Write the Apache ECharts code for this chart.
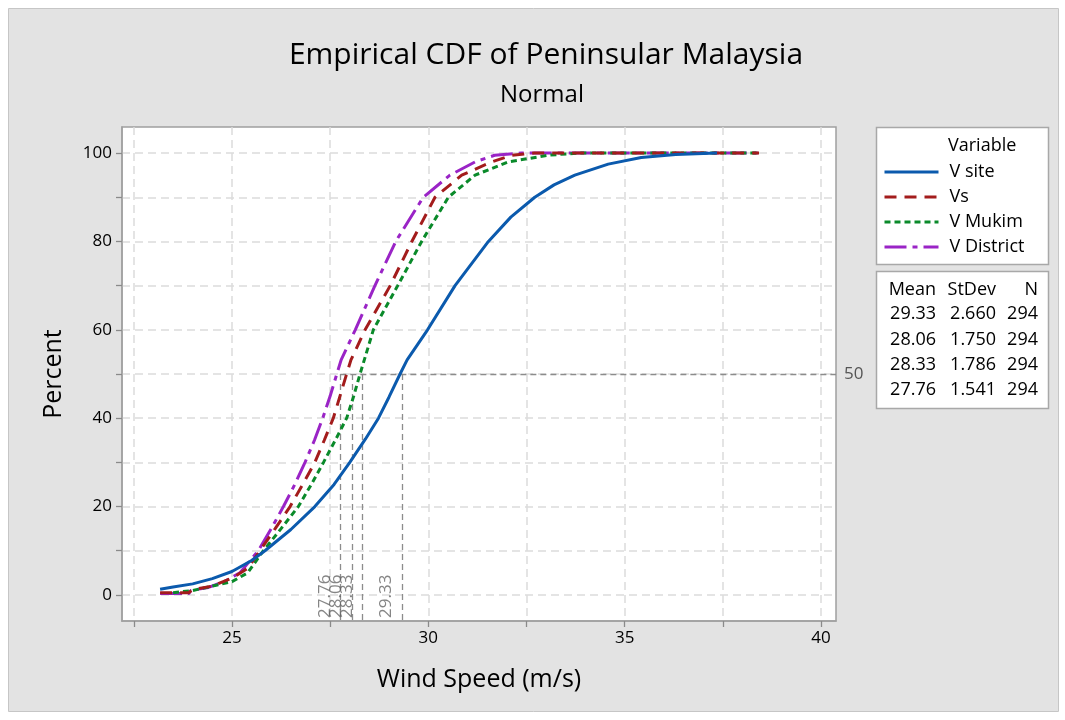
<!DOCTYPE html>
<html>
<head>
<meta charset="utf-8">
<script src="https://cdn.jsdelivr.net/npm/echarts@6/dist/echarts.min.js"></script>
<style>
html,body{margin:0;padding:0;background:#ffffff;}
#chart{width:1065px;height:720px;}
</style>
</head>
<body>
<div id="chart"></div>
<script>
// ---- Data ----
const seriesNames = ['V site', 'Vs', 'V Mukim', 'V District'];

const siteX = [23.17, 23.50, 24.00, 24.50, 25.00, 25.50, 25.84, 26.50, 27.11, 27.60, 28.00, 28.40, 28.73, 29.00, 29.28, 29.46, 29.98, 30.68, 31.53, 32.10, 32.71, 33.20, 33.73, 34.58, 35.42, 36.30, 37.35];
const siteP = [1.3, 1.8, 2.5, 3.7, 5.3, 7.8, 10.0, 14.8, 20.0, 25.0, 30.0, 35.3, 40.0, 44.8, 50.0, 53.2, 60.0, 70.0, 80.0, 85.5, 90.0, 92.8, 95.0, 97.5, 99.0, 99.7, 100];

const vsX = [23.17, 23.90, 24.00, 24.50, 25.00, 25.40, 25.71, 26.10, 26.48, 26.80, 27.11, 27.35, 27.58, 27.75, 27.92, 28.03, 28.39, 29.03, 29.58, 30.17, 30.85, 31.61, 32.12, 32.70, 38.42];
const vsP = [0.5, 0.5, 1.2, 2.0, 3.8, 6.0, 10.0, 15.0, 20.0, 25.0, 30.0, 35.0, 40.0, 45.0, 50.0, 53.2, 60.0, 70.0, 80.0, 90.0, 95.0, 98.0, 99.5, 100, 100];

const mukimX = [23.50, 24.00, 24.50, 25.00, 25.40, 25.80, 26.25, 26.69, 27.02, 27.33, 27.63, 27.92, 28.10, 28.26, 28.37, 28.60, 29.22, 29.83, 30.51, 31.19, 32.03, 33.05, 33.81, 38.42];
const mukimP = [0.5, 1.0, 2.0, 3.0, 5.0, 10.0, 15.0, 20.0, 25.0, 30.0, 35.0, 40.0, 45.0, 50.0, 53.2, 60.0, 70.0, 80.0, 90.0, 95.0, 98.0, 99.5, 100, 100];

const districtX = [23.17, 23.90, 23.95, 24.40, 24.80, 25.20, 25.67, 26.00, 26.31, 26.60, 26.86, 27.10, 27.31, 27.50, 27.67, 27.78, 28.14, 28.64, 29.17, 29.87, 30.55, 31.19, 31.69, 32.37, 38.42];
const districtP = [0.3, 0.3, 1.0, 1.7, 3.0, 5.0, 10.0, 15.0, 20.0, 25.0, 30.0, 35.0, 40.0, 45.0, 50.0, 53.2, 60.0, 70.0, 80.0, 90.0, 95.0, 98.0, 99.5, 100, 100];

const means = [29.33, 28.06, 28.33, 27.76];
const stdevs = ['2.660', '1.750', '1.786', '1.541'];
const counts = [294, 294, 294, 294];

const xTicks = [22.5, 25, 27.5, 30, 32.5, 35, 37.5, 40];
const xLabels = [25, 30, 35, 40];
const yTicks = [0, 10, 20, 30, 40, 50, 60, 70, 80, 90, 100];
const yLabels = [0, 20, 40, 60, 80, 100];
const refPercent = 50;

// ---- Styling ----
const colors = ['#0b5aad', '#a31c1c', '#0a8a2a', '#9a24c6'];
const dashes = ['solid', [12, 8], [6, 4], [22, 6, 5, 6]];
const FONT = 'Open Sans';

const xMin = 22.2, xMax = 40.38, yMin = -5.9, yMax = 105.9;

function zip(xs, ps) { return xs.map((x, i) => [x, ps[i]]); }
const allData = [zip(siteX, siteP), zip(vsX, vsP), zip(mukimX, mukimP), zip(districtX, districtP)];

const chart = echarts.init(document.getElementById('chart'), null, {renderer: 'canvas'});

const lineSeries = seriesNames.map((name, i) => ({
  name: name,
  type: 'line',
  data: allData[i],
  showSymbol: false,
  symbol: 'none',
  z: 10 - i,
  lineStyle: {color: colors[i], width: 3, type: dashes[i]},
  itemStyle: {color: colors[i]},
  emphasis: {disabled: true}
}));

const refLineStyle = {color: '#8c8c8c', type: [6, 4], width: 1.3};
const minMean = Math.min.apply(null, means);

const refSeries = {
  name: 'ref',
  type: 'line',
  data: [],
  silent: true,
  markLine: {
    symbol: 'none',
    silent: true,
    animation: false,
    lineStyle: refLineStyle,
    label: {show: false},
    data: [
      [{coord: [minMean, refPercent], label: {show: true, position: 'end', formatter: String(refPercent), color: '#555', fontSize: 17, fontFamily: FONT, distance: 8}},
       {coord: [xMax, refPercent]}]
    ].concat(means.map(m => [
      {coord: [m, refPercent]},
      {coord: [m, yMin]}
    ]))
  }
};

const meanLabelSeries = {
  name: 'meanLabels',
  type: 'scatter',
  data: means.map(m => [m, yMin]),
  symbolSize: 0,
  silent: true,
  clip: false,
  z: 20,
  label: {
    show: true,
    formatter: p => p.value[0].toFixed(2),
    position: [0, 0],
    rotate: 90,
    align: 'left',
    verticalAlign: 'bottom',
    offset: [3, -7],
    color: '#666',
    fontSize: 17,
    fontFamily: FONT
  }
};

// graphic elements: background, boxes, legend title, stats table
const TXT = '18px "' + FONT + '"';
const statCols = [936, 996, 1038];
const statHeader = ['Mean', 'StDev', 'N'];
const statHeaderY = 290;
const statRowsY = [314, 340, 365, 390];
const graphics = [
  {type: 'rect', shape: {x: 8.5, y: 8.5, width: 1050, height: 703}, style: {fill: '#e3e3e3', stroke: '#c6c6c6', lineWidth: 1}, z: -10, silent: true},
  {type: 'rect', shape: {x: 876.5, y: 127.5, width: 172, height: 137}, style: {fill: '#ffffff', stroke: '#a8a8a8', lineWidth: 1.5}, z: -5, silent: true},
  {type: 'rect', shape: {x: 876.5, y: 271.5, width: 172, height: 137}, style: {fill: '#ffffff', stroke: '#a8a8a8', lineWidth: 1.5}, z: -5, silent: true},
  {type: 'text', x: 948, y: 146, style: {text: 'Variable', fill: '#000', font: TXT, textAlign: 'left', textVerticalAlign: 'middle'}, silent: true}
];
statHeader.forEach((h, j) => graphics.push({type: 'text', x: statCols[j], y: statHeaderY, style: {text: h, fill: '#000', font: TXT, textAlign: 'right', textVerticalAlign: 'middle'}, silent: true}));
means.forEach((m, i) => {
  const vals = [m.toFixed(2), stdevs[i], String(counts[i])];
  vals.forEach((v, j) => graphics.push({type: 'text', x: statCols[j], y: statRowsY[i], style: {text: v, fill: '#000', font: TXT, textAlign: 'right', textVerticalAlign: 'middle'}, silent: true}));
});

const option = {
  backgroundColor: '#ffffff',
  animation: false,
  title: [
    {text: 'Empirical CDF of Peninsular Malaysia', left: 541, top: 35, textAlign: 'center',
     textStyle: {fontFamily: FONT, fontSize: 30, fontWeight: 'normal', color: '#000'}},
    {text: 'Normal', left: 537, top: 78, textAlign: 'center',
     textStyle: {fontFamily: FONT, fontSize: 24, fontWeight: 'normal', color: '#000'}}
  ],
  legend: {
    data: seriesNames,
    orient: 'vertical',
    left: 878,
    top: 158,
    padding: 5,
    itemWidth: 54,
    itemHeight: 14,
    itemGap: 7,
    selectedMode: false,
    itemStyle: {color: 'rgba(0,0,0,0)', borderColor: 'rgba(0,0,0,0)', borderWidth: 0},
    lineStyle: {width: 3},
    textStyle: {fontFamily: FONT, fontSize: 18, lineHeight: 18, color: '#000', padding: [0, 0, 0, 6]}
  },
  grid: {left: 122, top: 127, right: 229, bottom: 99, show: true, backgroundColor: '#ffffff', borderColor: '#a0a0a0', borderWidth: 1.5, containLabel: false},
  xAxis: {
    type: 'value', min: xMin, max: xMax,
    name: 'Wind Speed (m/s)', nameLocation: 'middle', nameGap: 46,
    nameTextStyle: {fontFamily: FONT, fontSize: 25, color: '#000'},
    axisLine: {show: true, onZero: false, lineStyle: {color: '#a0a0a0', width: 1.5}},
    axisTick: {show: true, customValues: xTicks, length: 6, lineStyle: {color: '#8a8a8a', width: 1.3}},
    axisLabel: {customValues: xLabels, fontFamily: FONT, fontSize: 17, color: '#000', margin: 9},
    splitLine: {show: true, lineStyle: {color: '#dcdcdc', type: [8, 5], width: 1.5}}
  },
  yAxis: {
    type: 'value', min: yMin, max: yMax,
    name: 'Percent', nameLocation: 'middle', nameGap: 56, nameRotate: 90,
    nameTextStyle: {fontFamily: FONT, fontSize: 25, color: '#000'},
    axisLine: {show: true, onZero: false, lineStyle: {color: '#a0a0a0', width: 1.5}},
    axisTick: {show: true, customValues: yTicks, length: 6, lineStyle: {color: '#8a8a8a', width: 1.3}},
    axisLabel: {customValues: yLabels, fontFamily: FONT, fontSize: 17, color: '#000', margin: 10},
    splitLine: {show: true, lineStyle: {color: '#dcdcdc', type: [8, 5], width: 1.5}}
  },
  graphic: graphics,
  series: lineSeries.concat([refSeries, meanLabelSeries])
};

chart.setOption(option);
</script>
</body>
</html>
